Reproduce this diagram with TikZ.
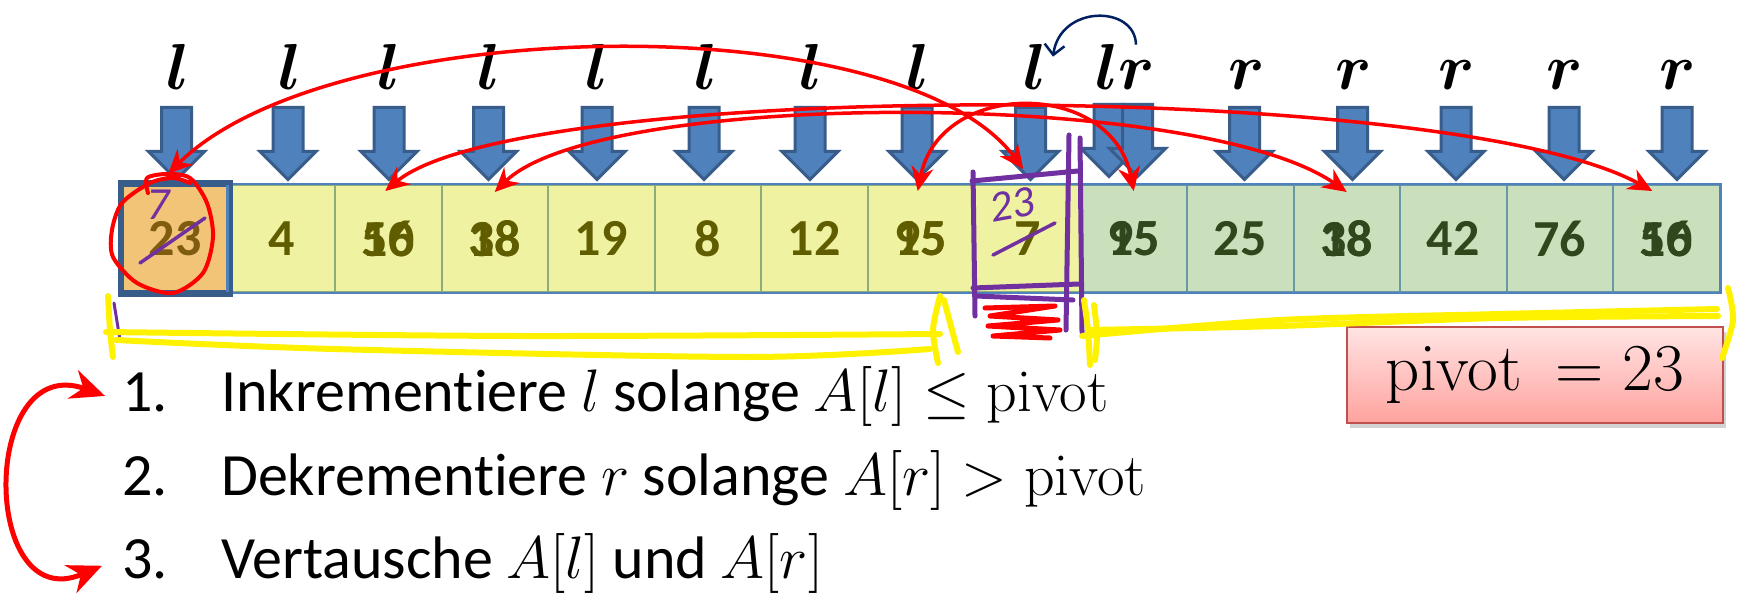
\RequirePackage{fix-cm}
\documentclass[tikz,border=0pt]{standalone}
\usepackage{amsmath}
\usepackage[no-math]{fontspec}
\setmainfont{Carlito}[Ligatures=NoCommon]
\usetikzlibrary{positioning,shapes.arrows,arrows.meta,shadows}

\definecolor{cellyellow}{RGB}{239,242,160}
\definecolor{cellgreen}{RGB}{202,224,188}
\definecolor{cellorange}{RGB}{242,196,120}
\definecolor{txtyellow}{RGB}{96,92,0}
\definecolor{txtgreen}{RGB}{48,70,28}
\definecolor{txtorange}{RGB}{128,92,16}
\definecolor{arrowblue}{RGB}{79,129,189}
\definecolor{arrowedge}{RGB}{56,93,138}
\definecolor{lineyellow}{RGB}{140,172,120}
\definecolor{linegreen}{RGB}{104,152,164}
\definecolor{penpurple}{RGB}{112,48,160}
\definecolor{pennavy}{RGB}{0,32,96}
\definecolor{boxtop}{RGB}{255,228,228}
\definecolor{boxbottom}{RGB}{255,163,158}
\definecolor{boxedge}{RGB}{192,80,77}

\newcommand{\two}[2]{\makebox[0pt]{#1}\makebox[0pt]{#2}}

\tikzset{
  cell/.style={draw, minimum width=106.5pt, minimum height=107pt, inner sep=0pt, line width=2pt,
    font=\fontsize{52}{60}\selectfont\bfseries},
  ycell/.style={cell, fill=cellyellow, draw=lineyellow, text=txtyellow},
  gcell/.style={cell, fill=cellgreen, draw=linegreen, text=txtgreen},
  ocell/.style={cell, fill=cellorange, draw=arrowedge, line width=4.5pt, text=txtorange},
  blk/.style={shape=single arrow, rotate=-90, fill=arrowblue, draw=arrowedge, line width=3pt,
    minimum height=72pt, minimum width=53pt, single arrow head extend=13pt,
    inner xsep=0pt, inner ysep=13.5pt},
  lbl/.style={font=\fontsize{65}{70}\selectfont\boldmath, anchor=base, inner sep=0pt},
  swaparc/.style={red, line width=3.5pt, >={Stealth[length=24pt,width=22pt]}, <->},
  looparc/.style={red, line width=5pt, >={Stealth[length=34pt,width=30pt]}, <->},
  navyarc/.style={pennavy, line width=2.5pt, -{Straight Barb[length=10pt,width=20pt]}},
  purplepen/.style={penpurple, line width=5pt, line cap=round},
  redpen/.style={red, line width=4pt, line cap=round, line join=round},
  hilite/.style={yellow, line width=6pt, line cap=round, line join=round},
  listtxt/.style={font=\fontsize{60}{70}\selectfont, anchor=base west, inner sep=0pt},
  pivotbox/.style={draw=boxedge, line width=2pt, top color=boxtop, bottom color=boxbottom,
    minimum width=376pt, minimum height=96pt, font=\fontsize{67}{72}\selectfont,
    drop shadow={opacity=0.35, shadow xshift=3pt, shadow yshift=-5pt}}
}

\begin{document}
\begin{tikzpicture}[x=1pt,y=1pt,node distance=106.5pt,on grid]
  \fill[white] (0,0) rectangle (1739,-604);
  \useasboundingbox (0,0) rectangle (1739,-604);

  \node[ocell] (c0) at (175.25,-238.5) {23};
  \node[ycell] (c1) [right=of c0] {4};
  \node[ycell] (c2) [right=of c1] {\two{56}{10}};
  \node[ycell] (c3) [right=of c2] {\two{38}{18}};
  \node[ycell] (c4) [right=of c3] {19};
  \node[ycell] (c5) [right=of c4] {8};
  \node[ycell] (c6) [right=of c5] {12};
  \node[ycell] (c7) [right=of c6] {\two{95}{15}};
  \node[ycell] (c8) [right=of c7] {7};
  \node[gcell] (c9) [right=of c8] {\two{95}{15}};
  \node[gcell] (c10) [right=of c9] {25};
  \node[gcell] (c11) [right=of c10] {\two{38}{18}};
  \node[gcell] (c12) [right=of c11] {42};
  \node[gcell] (c13) [right=of c12] {76};
  \node[gcell] (c14) [right=of c13] {\two{56}{10}};
  \draw[arrowblue, line width=2.5pt] (c1.north west) rectangle (c14.south east);
  \draw[arrowedge, line width=4.5pt] (c0.north west) rectangle (c0.south east);

  \node[blk] (a0) at (176.5,-136) {};
  \node[blk] (a1) at (288,-136) {};
  \node[blk] (a2) at (389,-136) {};
  \node[blk] (a3) at (488.5,-136) {};
  \node[blk] (a4) at (597,-136) {};
  \node[blk] (a5) at (704,-136) {};
  \node[blk] (a6) at (810,-136) {};
  \node[blk] (a7) at (917,-136) {};
  \node[blk] (a8) at (1030.5,-136) {};
  \node[blk] (a9) at (1109,-133) {};
  \node[blk] (a9r) at (1137.5,-133) {};
  \node[blk] (a10) at (1244.5,-136) {};
  \node[blk] (a11) at (1352.5,-136) {};
  \node[blk] (a12) at (1456,-136) {};
  \node[blk] (a13) at (1564,-136) {};
  \node[blk] (a14) at (1677,-136) {};

  \node[lbl] (l0) at (178,-90) {$l$};
  \node[lbl] (l1) at (290,-90) {$l$};
  \node[lbl] (l2) at (389,-90) {$l$};
  \node[lbl] (l3) at (489,-90) {$l$};
  \node[lbl] (l4) at (597,-90) {$l$};
  \node[lbl] (l5) at (706,-90) {$l$};
  \node[lbl] (l6) at (811,-90) {$l$};
  \node[lbl] (l7) at (918,-90) {$l$};
  \node[lbl] (l8) at (1035,-90) {$l$};
  \node[lbl] (lr) at (1125.5,-90) {$lr$};
  \node[lbl] (r10) at (1247,-90) {$r$};
  \node[lbl] (r11) at (1354,-90) {$r$};
  \node[lbl] (r12) at (1457,-90) {$r$};
  \node[lbl] (r13) at (1565,-90) {$r$};
  \node[lbl] (r14) at (1678,-90) {$r$};

  \draw[swaparc] ([xshift=-7pt,yshift=9pt]c0.north) .. controls +(162,161) and +(-123,165) .. ([xshift=-4pt,yshift=15pt]c8.north);
  \draw[swaparc] ([xshift=-3pt,yshift=-7pt]c2.north) .. controls +(135,112) and +(-203,112) .. ([xshift=-14pt,yshift=-7pt]c14.north);
  \draw[swaparc] ([yshift=-8pt]c3.north) .. controls +(105,103) and +(-147,103) .. ([yshift=-8pt]c11.north);
  \draw[swaparc] ([xshift=-3pt,yshift=-7pt]c7.north) .. controls +(22,112) and +(-22,112) .. ([yshift=-7pt]c9.north);
  \draw[navyarc] ([xshift=10.5pt]lr.north) .. controls +(-1,40) and +(7,52) .. ([xshift=18pt,yshift=-12pt]l8.north);

  \draw[redpen] plot[smooth] coordinates {(148,-193) (147,-178) (167,-174) (190,-178) (207,-203) (213,-237) (203,-273) (173,-293) (137,-283) (113,-257) (112,-230) (122,-203) (150,-183) (173,-178) (190,-183)};
  \draw[redpen, line width=5pt] (985,-308) -- (1055,-306) -- (990,-316) -- (1058,-320) -- (988,-326) -- (1060,-330) -- (993,-336) -- (1050,-338);

  \node[text=penpurple, font=\fontsize{44}{50}\selectfont\itshape, rotate=10] (p23) at (1012,-205) {23};
  \node[text=penpurple, font=\fontsize{46}{50}\selectfont\itshape] (p7) at (158,-205) {7};
  \draw[purplepen, line width=3.5pt] (993,-255) -- (1055,-223);
  \draw[purplepen, line width=3.5pt] (140,-263) -- (205,-218);
  \draw[purplepen] (973,-172) -- (975,-316);
  \draw[purplepen] (972,-181) -- (1078,-171);
  \draw[purplepen] (1069,-135) -- (1066,-330);
  \draw[purplepen] (1080,-138) -- (1082,-332);
  \draw[purplepen] (973,-288) -- (1079,-284);
  \draw[purplepen] (976,-296) -- (1073,-300);
  \draw[purplepen, line width=3pt] (114,-303) -- (120,-340);

  \node[listtxt] (n1) at (122,-411) {1.};
  \node[listtxt] (t1) at (221,-411) {Inkrementiere $l$ solange $A[l] \le \mathrm{pivot}$};
  \node[listtxt] (n2) at (122,-495) {2.};
  \node[listtxt] (t2) at (221,-495) {Dekrementiere $r$ solange $A[r] > \mathrm{pivot}$};
  \node[listtxt] (n3) at (122,-578) {3.};
  \node[listtxt] (t3) at (221,-578) {Vertausche $A[l]$ und $A[r]$};
  \draw[looparc] ([xshift=-17pt,yshift=-4pt]n1.west) .. controls +(-125,45) and +(-122,-52) .. ([xshift=-20pt,yshift=-7pt]n3.west);

  \node[pivotbox] (pv) at (1535,-375) {$\mathrm{pivot}\ = 23$};

  \draw[hilite] plot[smooth] coordinates {(108,-296) (110,-330) (113,-357)};
  \draw[hilite] plot[smooth] coordinates {(106,-332) (520,-336) (940,-334)};
  \draw[hilite] plot[smooth] coordinates {(116,-340) (333,-349) (747,-357) (930,-349)};
  \draw[hilite] plot[smooth] coordinates {(940,-296) (933,-330) (938,-363)};
  \draw[hilite] plot[smooth] coordinates {(944,-300) (952,-330) (958,-352)};
  \draw[hilite] plot[smooth] coordinates {(1084,-300) (1088,-330) (1090,-365)};
  \draw[hilite] plot[smooth] coordinates {(1094,-305) (1097,-335) (1095,-360)};
  \draw[hilite] plot[smooth] coordinates {(1082,-336) (1280,-320) (1500,-314) (1717,-309)};
  \draw[hilite] plot[smooth] coordinates {(1088,-330) (1280,-326) (1500,-318) (1718,-316)};
  \draw[hilite] plot[smooth] coordinates {(1728,-288) (1733,-320) (1722,-358)};
\end{tikzpicture}
\end{document}
